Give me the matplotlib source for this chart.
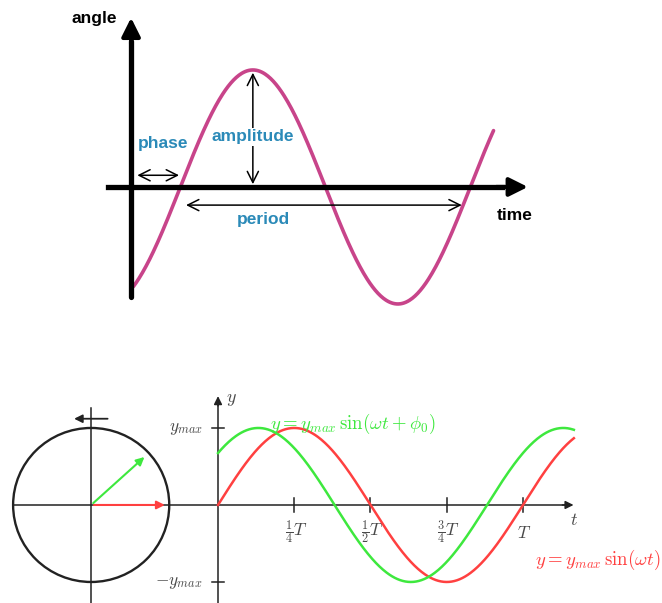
import numpy as np
import matplotlib.pyplot as plt
from matplotlib.patches import Ellipse

plt.rcParams['mathtext.fontset'] = 'cm'

# --- top diagram: time in periods, angle in amplitudes ---
AMPLITUDE = 1.0
PERIOD = 1.0
PHASE = 0.17          # first zero crossing, in periods
t_start, t_end = 0.008, 1.25
top_labels = ['phase', 'amplitude', 'period']
axis_labels = ['angle', 'time']

# --- bottom diagram: t in units of T, y in units of y_max ---
Y_MAX = 1.0
PHI0 = 0.74           # rad
t_bottom_end = 1.167
tick_pos = [0.25, 0.5, 0.75, 1.0]
tick_labels = [r'$\frac{1}{4}T$', r'$\frac{1}{2}T$', r'$\frac{3}{4}T$', r'$T$']
circle_cx = -0.416
circle_rx = 0.256

CURVE = '#c8448a'
BLUE = '#2b8ab8'
GREEN = '#3ee83e'
RED = '#ff4040'
DARK = '#222222'
GREY_TXT = '#4a4a4a'

fig = plt.figure(figsize=(6.62, 6.03), dpi=100)

# ---------------- top ----------------
ax = fig.add_axes([0, 1 - 320 / 603, 1, 320 / 603])
ax.set_xlim(-0.452, 1.831)
ax.set_ylim(-1.137, 1.598)
ax.axis('off')

t = np.linspace(t_start, t_end, 400)
ax.plot(t, AMPLITUDE * np.sin(2 * np.pi * (t - PHASE) / PERIOD), color=CURVE, lw=2.6,
        solid_capstyle='round', zorder=2)

# axes with big arrows
ax.plot([0, 0], [-0.94, 1.25], color='black', lw=3.8, solid_capstyle='round', zorder=3)
ax.annotate('', xy=(0, 1.47), xytext=(0, 1.2),
            arrowprops=dict(arrowstyle='-|>', color='black', lw=3, mutation_scale=28), zorder=3)
ax.plot([-0.079, 1.28], [0, 0], color='black', lw=3.8, zorder=3)
ax.annotate('', xy=(1.378, 0), xytext=(1.25, 0),
            arrowprops=dict(arrowstyle='-|>', color='black', lw=3, mutation_scale=28), zorder=3)

ax.text(-0.126, 1.44, axis_labels[0], fontsize=12.5, fontweight='bold',
        family='Liberation Sans', ha='center', va='center')
ax.text(1.324, -0.24, axis_labels[1], fontsize=12.5, fontweight='bold',
        family='Liberation Sans', ha='center', va='center')

arrow = dict(arrowstyle='<->', color='black', lw=1.1, mutation_scale=20)
ax.annotate('', xy=(0.012, 0.10), xytext=(PHASE + 0.005, 0.10), arrowprops=arrow)
ax.annotate('', xy=(PHASE + 0.25 * PERIOD, 0.0), xytext=(PHASE + 0.25 * PERIOD, AMPLITUDE),
            arrowprops=arrow)
ax.annotate('', xy=(PHASE + 0.01, -0.155), xytext=(PHASE + PERIOD - 0.02, -0.155),
            arrowprops=arrow)

ax.text(0.11, 0.37, top_labels[0], color=BLUE, fontsize=12.5, fontweight='bold',
        family='Liberation Sans', ha='center', va='center')
ax.text(PHASE + 0.25 * PERIOD, 0.43, top_labels[1], color=BLUE, fontsize=12.5,
        fontweight='bold', family='Liberation Sans', ha='center', va='center',
        bbox=dict(facecolor='white', edgecolor='none', pad=1), zorder=4)
ax.text(0.455, -0.28, top_labels[2], color=BLUE, fontsize=12.5, fontweight='bold',
        family='Liberation Sans', ha='center', va='center')

# ---------------- bottom ----------------
bx = fig.add_axes([0, 0, 1, 223 / 603])
bx.set_xlim(-0.715, 1.456)
bx.set_ylim(-1.273, 1.623)
bx.axis('off')

# rotating vector circle
bx.add_patch(Ellipse((circle_cx, 0), 2 * circle_rx, 2 * Y_MAX, fill=False,
                     edgecolor=DARK, lw=1.7))
bx.plot([circle_cx, circle_cx], [-1.3, 1.26], color=DARK, lw=1.1)
bx.annotate('', xy=(circle_cx - 0.065, 1.12), xytext=(circle_cx + 0.063, 1.12),
            arrowprops=dict(arrowstyle='-|>', color=DARK, lw=1.3, mutation_scale=12))
bx.annotate('', xy=(circle_cx + circle_rx * 0.98, 0), xytext=(circle_cx, 0),
            arrowprops=dict(arrowstyle='-|>', color=RED, lw=1.5, mutation_scale=12))
bx.annotate('', xy=(circle_cx + 0.96 * circle_rx * np.cos(PHI0), 0.96 * np.sin(PHI0)),
            xytext=(circle_cx, 0),
            arrowprops=dict(arrowstyle='-|>', color=GREEN, lw=1.5, mutation_scale=12))

# graph axes
bx.plot([-0.672, 1.14], [0, 0], color=DARK, lw=1.1)
bx.annotate('', xy=(1.175, 0), xytext=(1.12, 0),
            arrowprops=dict(arrowstyle='-|>', color=DARK, lw=1.1, mutation_scale=12))
bx.plot([0, 0], [-1.3, 1.3], color=DARK, lw=1.1)
bx.annotate('', xy=(0, 1.45), xytext=(0, 1.25),
            arrowprops=dict(arrowstyle='-|>', color=DARK, lw=1.1, mutation_scale=12))
bx.text(1.168, -0.2, r'$t$', fontsize=13, color=GREY_TXT, ha='center', va='center')
bx.text(0.045, 1.38, r'$y$', fontsize=13, color=GREY_TXT, ha='center', va='center')

for yv, lab in [(Y_MAX, r'$y_{max}$'), (-Y_MAX, r'$-y_{max}$')]:
    bx.plot([-0.02, 0.02], [yv, yv], color=DARK, lw=1.1)
    bx.text(-0.05, yv, lab, fontsize=12.5, color=GREY_TXT, ha='right', va='center')
for xv, lab in zip(tick_pos, tick_labels):
    bx.plot([xv, xv], [-0.09, 0.09], color=DARK, lw=1.1)
    bx.text(xv + 0.005, -0.36, lab, fontsize=12.5, color=GREY_TXT, ha='center', va='center')

tb = np.linspace(0, t_bottom_end, 400)
bx.plot(tb, Y_MAX * np.sin(2 * np.pi * tb), color=RED, lw=1.8, zorder=3)
bx.plot(tb, Y_MAX * np.sin(2 * np.pi * tb + PHI0), color=GREEN, lw=1.8, zorder=3)

bx.text(0.17, 1.05, r'$y = y_{max}\,\sin(\omega t + \phi_0)$', fontsize=13.5, color=GREEN,
        ha='left', va='center', zorder=4)
bx.text(1.452, -0.71, r'$y = y_{max}\,\sin(\omega t)$', fontsize=13.5, color=RED,
        ha='right', va='center', zorder=4)

fig.savefig('out.png', dpi=100)
